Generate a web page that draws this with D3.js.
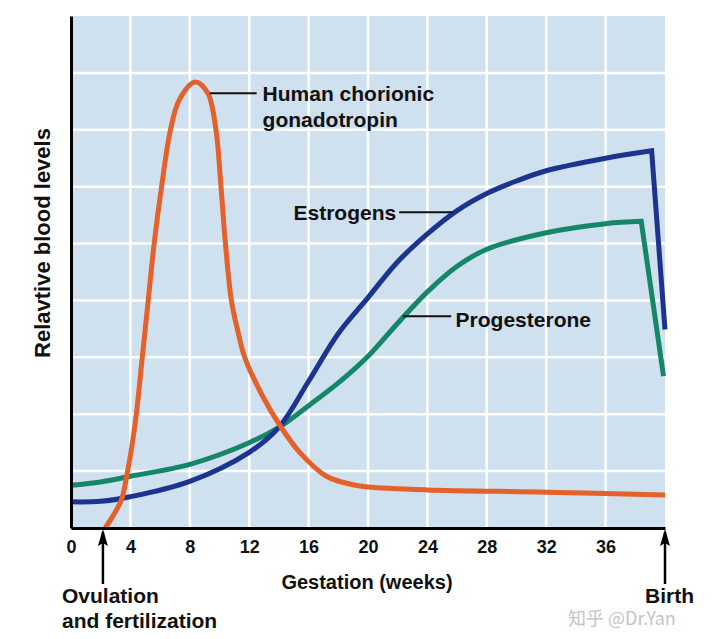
<!DOCTYPE html>
<html>
<head>
<meta charset="utf-8">
<script src="https://cdn.jsdelivr.net/npm/d3@7"></script>
<style>
  html, body { margin: 0; padding: 0; background: #ffffff; }
  svg { display: block; font-family: "Liberation Sans", Arial, sans-serif; }
</style>
</head>
<body>
<svg id="chart" width="720" height="639"></svg>
<script>
// ---- data (weeks of gestation, relative level) ----
const xTicks = [0, 4, 8, 12, 16, 20, 24, 28, 32, 36];
const yGrid = [1, 2, 3, 4, 5, 6, 7, 8];

const hcgWeeks  = [2.3, 2.8, 3.4, 3.75, 4.1, 4.4, 4.8, 5.2, 5.6, 6.1, 6.7, 7.3, 8.35, 9.2, 9.76, 10.1, 10.4, 10.8, 11.2, 11.7, 12.9, 14.1, 15.4, 17.2, 19.0, 20, 24, 32, 40];
const hcgValues = [0, 0.2, 0.5, 0.91, 1.44, 2.0, 3.0, 4.0, 5.0, 6.0, 7.0, 7.53, 7.84, 7.65, 7.0, 6.0, 5.0, 4.0, 3.5, 3.0, 2.32, 1.79, 1.33, 0.91, 0.76, 0.72, 0.67, 0.63, 0.58];

const estWeeks  = [0, 2, 4, 8, 12, 14, 16, 18, 20, 22, 24, 26, 28, 30, 32, 36, 39.1, 40];
const estValues = [0.46, 0.47, 0.55, 0.82, 1.33, 1.77, 2.58, 3.42, 4.05, 4.68, 5.17, 5.58, 5.88, 6.1, 6.28, 6.5, 6.63, 3.49];

const proWeeks  = [0, 2, 4, 8, 12, 14, 16, 18, 20, 22, 24, 26, 28, 32, 36, 38.4, 39.9];
const proValues = [0.75, 0.81, 0.91, 1.12, 1.5, 1.77, 2.15, 2.55, 3.02, 3.6, 4.15, 4.6, 4.9, 5.19, 5.35, 5.39, 2.67];

const seriesNames = ["Progesterone", "Estrogens", "Human chorionic gonadotropin"];

// ---- layout ----
const svg = d3.select("#chart");
const mLeft = 71, mRight = 665, mTop = 16, mBottom = 528;
const x = d3.scaleLinear().domain([0, 40]).range([mLeft, mRight]);
const y = d3.scaleLinear().domain([0, 9]).range([mBottom, mTop]);

const colors = { hcg: "#e4612b", est: "#1c338f", pro: "#168668" };

// plot background
svg.append("rect")
  .attr("x", mLeft).attr("y", mTop)
  .attr("width", mRight - mLeft).attr("height", mBottom - mTop)
  .attr("fill", "#cfe0ee");

// grid
svg.append("g").selectAll("line").data(xTicks.filter(d => d > 0)).join("line")
  .attr("x1", d => x(d)).attr("x2", d => x(d))
  .attr("y1", mTop).attr("y2", mBottom)
  .attr("stroke", "#ffffff").attr("stroke-width", 2.5);
svg.append("g").selectAll("line").data(yGrid).join("line")
  .attr("x1", mLeft).attr("x2", mRight)
  .attr("y1", d => y(d)).attr("y2", d => y(d))
  .attr("stroke", "#ffffff").attr("stroke-width", 2.5);

// curves: smooth part through the points, sharp final drop at birth
const smooth = d3.line().x(d => x(d[0])).y(d => y(d[1])).curve(d3.curveCatmullRom.alpha(0.5));
const pathFor = (pts, cornerEnd) => {
  if (!cornerEnd) return smooth(pts);
  const last = pts[pts.length - 1];
  return smooth(pts.slice(0, -1)) + `L${x(last[0])},${y(last[1])}`;
};
const series = [
  { key: "pro", pts: d3.zip(proWeeks, proValues), corner: true },
  { key: "est", pts: d3.zip(estWeeks, estValues), corner: true },
  { key: "hcg", pts: d3.zip(hcgWeeks, hcgValues), corner: false }
];
svg.append("g").selectAll("path").data(series).join("path")
  .attr("d", d => pathFor(d.pts, d.corner))
  .attr("fill", "none")
  .attr("stroke", d => colors[d.key])
  .attr("stroke-width", 5)
  .attr("stroke-linejoin", "miter")
  .attr("stroke-linecap", "butt");

// annotations: leader lines + labels
const ann = svg.append("g").attr("font-weight", "bold").attr("font-size", 21).attr("fill", "#111");
const leader = (w1, w2, v) => ann.append("line")
  .attr("x1", x(w1)).attr("x2", x(w2)).attr("y1", y(v)).attr("y2", y(v))
  .attr("stroke", "#111").attr("stroke-width", 2);

leader(9.35, 12.5, 7.64);
ann.append("text").attr("x", x(12.9)).attr("y", 101).text("Human chorionic");
ann.append("text").attr("x", x(12.9)).attr("y", 127).text("gonadotropin");

leader(22.1, 25.7, 5.55);
ann.append("text").attr("x", x(21.9)).attr("y", 220).attr("text-anchor", "end").text("Estrogens");

leader(22.35, 25.6, 3.72);
ann.append("text").attr("x", x(25.9)).attr("y", 327).text("Progesterone");

// axes
const xAxis = d3.axisBottom(x).tickValues(xTicks).tickSize(0).tickSizeOuter(0).tickPadding(12);
const gx = svg.append("g").attr("transform", `translate(0,${mBottom})`).call(xAxis);
gx.select(".domain").attr("stroke", "#000").attr("stroke-width", 3);
gx.selectAll("text").attr("font-size", 18).attr("font-weight", "bold").attr("fill", "#111")
  .attr("font-family", "Liberation Sans, Arial, sans-serif");

const yAxis = d3.axisLeft(y).tickValues([]).tickSize(0).tickSizeOuter(0);
const gy = svg.append("g").attr("transform", `translate(${mLeft},0)`).call(yAxis);
gy.select(".domain").attr("stroke", "#000").attr("stroke-width", 3);

// axis titles
svg.append("text").attr("x", 367).attr("y", 589).attr("text-anchor", "middle")
  .attr("font-size", 20).attr("font-weight", "bold").attr("fill", "#111")
  .text("Gestation (weeks)");
svg.append("text").attr("transform", "translate(50,243) rotate(-90)")
  .attr("text-anchor", "middle").attr("font-size", 22).attr("font-weight", "bold").attr("fill", "#111")
  .text("Relavtive blood levels");

// event arrows
const events = [
  { week: 2.15, lines: ["Ovulation", "and fertilization"], tx: 62 },
  { week: 40, lines: ["Birth"], tx: 645 }
];
events.forEach(ev => {
  const ax = x(ev.week);
  svg.append("path")
    .attr("d", `M${ax},584 L${ax},532`)
    .attr("stroke", "#000").attr("stroke-width", 2.5).attr("fill", "none");
  svg.append("path")
    .attr("d", `M${ax},529 L${ax - 5},546 L${ax},543 L${ax + 5},546 Z`)
    .attr("fill", "#000");
  ev.lines.forEach((t, i) => {
    svg.append("text").attr("x", ev.tx).attr("y", 603 + i * 25)
      .attr("font-size", 21).attr("font-weight", "bold").attr("fill", "#111").text(t);
  });
});

// watermark
svg.append("text").attr("x", 568).attr("y", 625)
  .attr("font-size", 18).attr("fill", "#c4c4c4")
  .attr("font-family", "Noto Sans CJK SC, sans-serif")
  .text("知乎 @Dr.Yan");
</script>
</body>
</html>
